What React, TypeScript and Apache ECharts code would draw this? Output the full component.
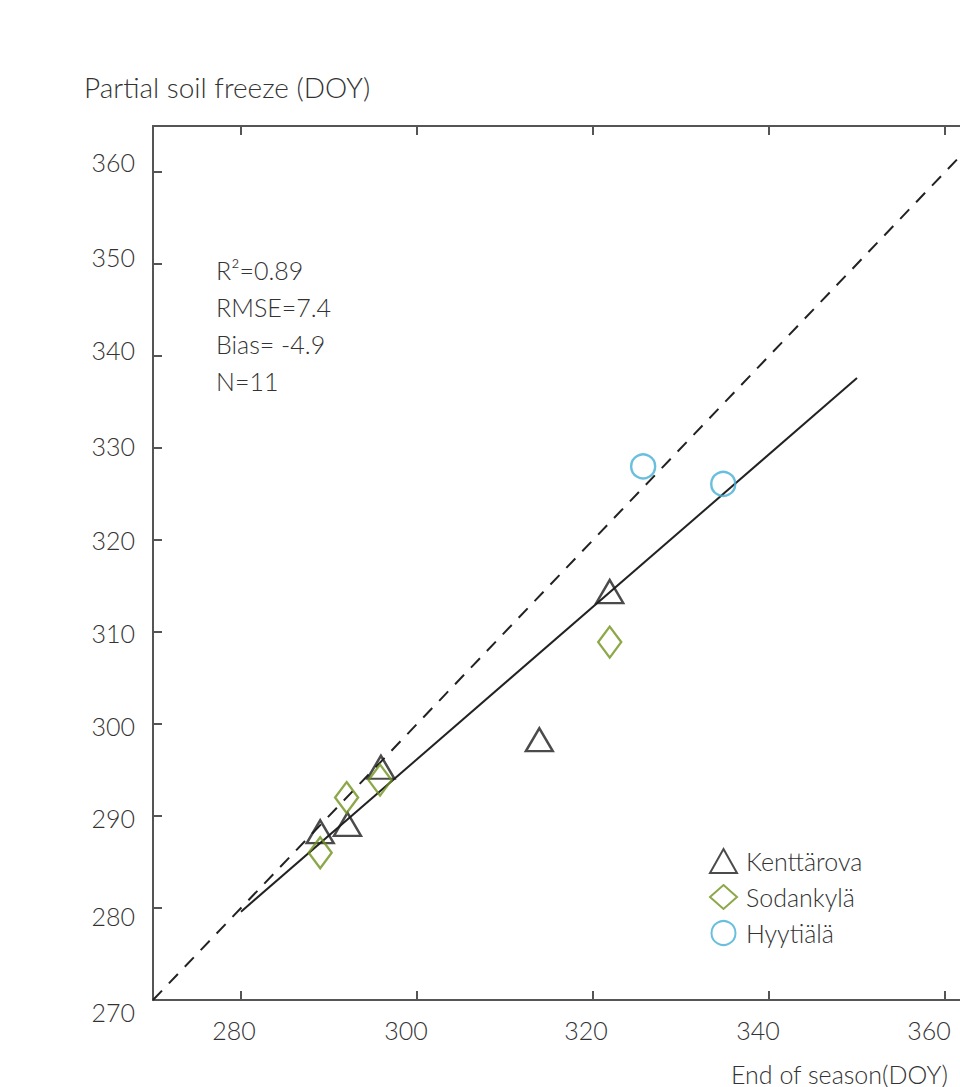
import React, { useEffect, useRef } from "react";
import * as echarts from "echarts";

const xTicks = [280, 300, 320, 340, 360];
const yTicks = [280, 290, 300, 310, 320, 330, 340, 350, 360];
const yLabels = [270, 280, 290, 300, 310, 320, 330, 340, 350, 360];

const kenttarova = [
  [289, 288.3],
  [292.1, 289.1],
  [295.9, 295.3],
  [313.9, 298.3],
  [321.9, 314.4],
];
const sodankyla = [
  [289, 286],
  [292, 292],
  [295.8, 293.9],
  [321.9, 308.9],
];
const hyytiala = [
  [325.7, 328],
  [334.8, 326.1],
];
const oneToOne = [
  [270, 270],
  [365, 365],
];
const regression = [
  [280, 279.6],
  [350, 337.6],
];
const statsLines = ["R²=0.89", "RMSE=7.4", "Bias= -4.9", "N=11"];

const FONT = "Lato";
const TXT = "#333";
const AX = "#555";

// label offsets in pixels, as placed in the original figure
const xLabelShift: Record<number, number> = { 280: 7, 300: 11, 320: 7, 340: 11, 360: 16 };
const yLabelShift: Record<number, number> = {
  270: -12, 280: -8, 290: -2, 300: -2, 310: -1, 320: 0, 330: 2, 340: 6, 350: 7, 360: 10,
};

export default function App() {
  const ref = useRef<HTMLDivElement>(null);
  useEffect(() => {
    const chart = echarts.init(ref.current!, null, { renderer: "svg" });
    const labelStyle = { fontFamily: FONT, fontSize: 25, fontWeight: 300, color: TXT };
    const xRich: Record<string, any> = {};
    xTicks.forEach((v) => {
      xRich["x" + v] = { ...labelStyle, padding: [0, 2 * xLabelShift[v], 0, 0] };
    });
    const yRich: Record<string, any> = {};
    yLabels.forEach((v) => {
      const s = yLabelShift[v];
      yRich["y" + v] = { ...labelStyle, padding: s >= 0 ? [0, 0, 2 * s, 0] : [-2 * s, 0, 0, 0] };
    });
    const axisCommon = {
      type: "value",
      min: 270,
      max: 365,
      splitLine: { show: false },
      axisLine: { show: true, onZero: false, lineStyle: { color: AX, width: 2 } },
    };
    chart.setOption({
      animation: false,
      backgroundColor: "#fff",
      title: {
        text: "Partial soil freeze (DOY)",
        left: 79,
        top: 68,
        textStyle: { fontFamily: FONT, fontSize: 28, fontWeight: 300, color: TXT },
      },
      grid: { left: 153, top: 126, width: 836, height: 874 },
      legend: {
        orient: "vertical",
        left: 704,
        top: 843,
        itemWidth: 27,
        itemHeight: 24,
        itemGap: 10,
        textStyle: { fontFamily: FONT, fontSize: 25, fontWeight: 300, color: TXT, padding: [0, 0, 0, 4] },
        data: ["Kenttärova", "Sodankylä", "Hyytiälä"],
      },
      xAxis: [
        {
          ...axisCommon,
          position: "bottom",
          axisTick: { show: true, inside: true, length: 9, customValues: xTicks, lineStyle: { color: AX, width: 2 } },
          axisLabel: {
            customValues: xTicks,
            margin: 17,
            ...labelStyle,
            formatter: (v: number) => `{x${v}|${v}}`,
            rich: xRich,
          },
        },
        {
          ...axisCommon,
          position: "top",
          axisTick: { show: true, inside: true, length: 9, customValues: xTicks, lineStyle: { color: AX, width: 2 } },
          axisLabel: { show: false },
        },
      ],
      yAxis: [
        {
          ...axisCommon,
          position: "left",
          axisTick: { show: true, inside: true, length: 9, customValues: yTicks, lineStyle: { color: AX, width: 2 } },
          axisLabel: {
            customValues: yLabels,
            margin: 18,
            ...labelStyle,
            formatter: (v: number) => `{y${v}|${v}}`,
            rich: yRich,
          },
        },
      ],
      graphic: [
        {
          type: "text",
          left: 216,
          top: 251,
          style: {
            text: statsLines.join("\n"),
            fontFamily: FONT,
            fontSize: 25,
            fontWeight: 300,
            fill: TXT,
            lineHeight: 37,
          },
        },
        {
          type: "text",
          left: 731,
          top: 1061,
          style: {
            text: "End of season(DOY)",
            fontFamily: FONT,
            fontSize: 25,
            fontWeight: 300,
            fill: TXT,
          },
        },
      ],
      series: [
        {
          name: "1:1",
          type: "line",
          data: oneToOne,
          symbol: "none",
          silent: true,
          lineStyle: { color: "#222", width: 2, type: [13, 10] },
          z: 1,
        },
        {
          name: "fit",
          type: "line",
          data: regression,
          symbol: "none",
          silent: true,
          lineStyle: { color: "#222", width: 2 },
          z: 1,
        },
        {
          name: "Kenttärova",
          type: "scatter",
          data: kenttarova,
          symbol: "triangle",
          symbolSize: [27, 23],
          itemStyle: { color: "rgba(0,0,0,0)", borderColor: "#1e1e1e", borderWidth: 2.4 },
          z: 3,
        },
        {
          name: "Sodankylä",
          type: "scatter",
          data: sodankyla,
          symbol: "diamond",
          symbolSize: [23, 31],
          itemStyle: { color: "rgba(0,0,0,0)", borderColor: "#6f921a", borderWidth: 2.4 },
          z: 3,
        },
        {
          name: "Hyytiälä",
          type: "scatter",
          data: hyytiala,
          symbol: "circle",
          symbolSize: 24,
          itemStyle: { color: "rgba(0,0,0,0)", borderColor: "#45afd6", borderWidth: 2.4 },
          z: 3,
        },
      ],
    });
    return () => chart.dispose();
  }, []);
  return (
    <div
      ref={ref}
      style={{ position: "fixed", left: 0, top: 0, width: 1000, height: 1087 }}
    />
  );
}
